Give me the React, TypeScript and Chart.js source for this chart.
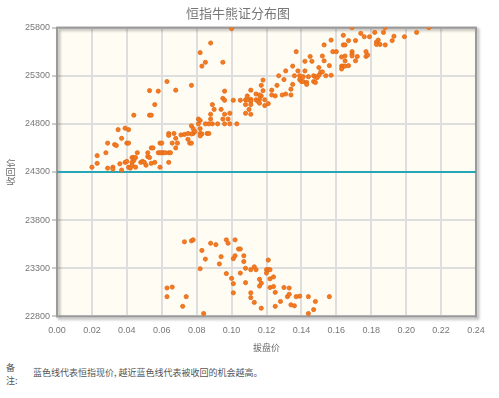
import React, { useEffect, useRef } from "react";
import { Chart, registerables } from "chart.js";

Chart.register(...registerables);

const chartTitle = "恒指牛熊证分布图";
const xAxisTitle = "拔盘价";
const yAxisTitle = "收回价";
const noteLabel = ["备", "注:"];
const noteText = "蓝色线代表恒指现价, 越近蓝色线代表被收回的机会越高。";

const xMin = 0;
const xMax = 0.24;
const xStep = 0.02;
const yMin = 22800;
const yMax = 25800;
const yStep = 500;
const spotLevel = 24300;

// [拔盘价, 收回价] — bear warrants (call level above spot)
const bearWarrants: [number, number][] = [
  [0.063, 25240], [0.053, 25145], [0.058, 25140], [0.068, 25150], [0.056, 25000], [0.044, 24890],
  [0.053, 24890], [0.054, 24890], [0.035, 24740], [0.039, 24755], [0.041, 24740], [0.037, 24650],
  [0.029, 24600], [0.033, 24585], [0.034, 24575], [0.040, 24600], [0.041, 24600], [0.028, 24500],
  [0.023, 24470], [0.023, 24390], [0.020, 24350], [0.029, 24340], [0.032, 24350], [0.032, 24330],
  [0.036, 24385], [0.037, 24320], [0.039, 24400], [0.040, 24410], [0.041, 24350], [0.042, 24340],
  [0.043, 24450], [0.044, 24450], [0.045, 24450], [0.044, 24420], [0.043, 24400], [0.043, 24370],
  [0.045, 24350], [0.046, 24500], [0.048, 24400], [0.049, 24410], [0.050, 24400], [0.051, 24370],
  [0.052, 24500], [0.052, 24460], [0.054, 24550], [0.055, 24550], [0.053, 24450], [0.054, 24390],
  [0.056, 24400], [0.059, 24350], [0.059, 24600], [0.060, 24600], [0.058, 24500], [0.059, 24500],
  [0.060, 24500], [0.061, 24500], [0.062, 24500], [0.064, 24500], [0.065, 24500], [0.064, 24700],
  [0.064, 24680], [0.066, 24600], [0.068, 24650], [0.069, 24600], [0.067, 24700], [0.071, 24685],
  [0.073, 24690], [0.064, 24400], [0.068, 24550], [0.075, 24640], [0.076, 24600],
  [0.100, 25790], [0.088, 25640], [0.082, 25540], [0.085, 25440], [0.083, 25400], [0.095, 25440],
  [0.077, 25200], [0.137, 25550], [0.145, 25500], [0.142, 25450], [0.146, 25450], [0.135, 25400],
  [0.131, 25350], [0.138, 25350], [0.142, 25350], [0.127, 25300], [0.130, 25260], [0.136, 25300],
  [0.139, 25300], [0.141, 25290], [0.144, 25290], [0.147, 25300], [0.139, 25260], [0.140, 25240],
  [0.141, 25240], [0.143, 25230], [0.143, 25210], [0.147, 25240], [0.135, 25210], [0.134, 25160],
  [0.131, 25110], [0.134, 25100], [0.129, 25100], [0.123, 25150], [0.126, 25200], [0.123, 25100],
  [0.125, 25090], [0.118, 25255], [0.117, 25200], [0.118, 25145], [0.111, 25150], [0.114, 25110],
  [0.117, 25090], [0.116, 25100], [0.114, 25050], [0.116, 25055], [0.119, 25050], [0.115, 25035],
  [0.121, 25010], [0.119, 24990], [0.116, 25015], [0.111, 25055], [0.108, 25050],
  [0.109, 25050], [0.111, 25035], [0.108, 25000], [0.111, 25000], [0.110, 24950], [0.108, 24910],
  [0.111, 24900], [0.109, 25090], [0.105, 25045], [0.101, 25045], [0.096, 25140], [0.095, 25065],
  [0.096, 25045], [0.089, 25000], [0.090, 24950], [0.094, 24950], [0.099, 24910], [0.096, 24900],
  [0.088, 24900], [0.088, 24850], [0.095, 24850], [0.098, 24850], [0.099, 24800], [0.096, 24800],
  [0.103, 24800], [0.092, 24800], [0.089, 24800], [0.087, 24800], [0.085, 24800], [0.081, 24850],
  [0.082, 24835], [0.081, 24800], [0.077, 24780], [0.078, 24750], [0.082, 24750], [0.078, 24700],
  [0.077, 24695], [0.075, 24700], [0.082, 24700], [0.083, 24695], [0.086, 24700], [0.087, 24700],
  [0.077, 24600], [0.082, 24675], [0.079, 24720],
  [0.169, 25800], [0.188, 25800], [0.213, 25800], [0.174, 25740], [0.176, 25705], [0.179, 25705],
  [0.182, 25750], [0.187, 25750], [0.193, 25710], [0.199, 25705], [0.206, 25750], [0.164, 25720],
  [0.157, 25670], [0.153, 25620], [0.164, 25620], [0.165, 25620], [0.167, 25665], [0.171, 25665],
  [0.184, 25670], [0.183, 25650], [0.183, 25625], [0.185, 25625], [0.188, 25620], [0.192, 25665],
  [0.158, 25550], [0.160, 25550], [0.169, 25550], [0.169, 25525], [0.177, 25550], [0.177, 25500],
  [0.178, 25515], [0.152, 25505], [0.163, 25495], [0.165, 25505], [0.169, 25505], [0.172, 25500],
  [0.153, 25455], [0.165, 25455], [0.171, 25455], [0.156, 25405], [0.163, 25400], [0.164, 25400],
  [0.165, 25400], [0.167, 25405], [0.163, 25370], [0.150, 25385], [0.151, 25335], [0.152, 25340],
  [0.150, 25305], [0.154, 25300], [0.157, 25305], [0.148, 25230], [0.148, 25290], [0.149, 25280],
];

// [拔盘价, 收回价] — bull warrants (call level below spot)
const bullWarrants: [number, number][] = [
  [0.063, 23095], [0.066, 23105], [0.063, 23005], [0.072, 22905], [0.074, 23005], [0.084, 22830],
  [0.073, 23575], [0.077, 23585], [0.078, 23595], [0.083, 23485], [0.085, 23395], [0.082, 23295],
  [0.088, 23560], [0.091, 23545], [0.097, 23595], [0.098, 23560], [0.102, 23595], [0.094, 23420],
  [0.093, 23345], [0.097, 23245], [0.100, 23195], [0.101, 23140], [0.101, 23045], [0.104, 23500],
  [0.105, 23500], [0.107, 23430], [0.107, 23370], [0.101, 23400], [0.102, 23430], [0.108, 23300],
  [0.105, 23250], [0.111, 23285], [0.113, 23315], [0.114, 23285], [0.108, 23150], [0.111, 23045],
  [0.111, 22995], [0.113, 22945], [0.117, 22885], [0.116, 23185], [0.117, 23145], [0.116, 23115],
  [0.121, 23385], [0.120, 23285], [0.121, 23285], [0.122, 23285], [0.120, 23250], [0.122, 23190],
  [0.124, 23210], [0.122, 23100], [0.124, 23110], [0.125, 23050], [0.128, 22955], [0.125, 22905],
  [0.130, 23100], [0.132, 23005], [0.133, 23095], [0.133, 23030], [0.134, 22920], [0.136, 22910],
  [0.137, 23005], [0.139, 23010], [0.144, 23005], [0.148, 22955], [0.144, 22830], [0.147, 22870],
  [0.156, 23005],
];

const FONT = "'Liberation Sans', 'Noto Sans CJK SC', sans-serif";

const framePlugin = {
  id: "frame",
  beforeDraw(chart: any) {
    const { ctx, chartArea: a } = chart;
    ctx.save();
    ctx.fillStyle = "#fffcf4";
    ctx.fillRect(a.left, a.top, a.right - a.left, a.bottom - a.top);
    ctx.restore();
  },
  beforeDatasetsDraw(chart: any) {
    const { ctx, chartArea: a } = chart;
    ctx.save();
    ctx.shadowColor = "rgba(0,0,0,0.35)";
    ctx.shadowOffsetX = 2;
    ctx.shadowOffsetY = 2;
    ctx.shadowBlur = 3;
    ctx.strokeStyle = "#9a9a9a";
    ctx.lineWidth = 2;
    ctx.strokeRect(a.left, a.top, a.right - a.left, a.bottom - a.top);
    ctx.restore();
  },
};

export default function App() {
  const ref = useRef<HTMLCanvasElement | null>(null);

  useEffect(() => {
    if (!ref.current) return;
    const toPts = (arr: [number, number][]) => arr.map(([x, y]) => ({ x, y }));
    const chart = new Chart(ref.current, {
      type: "scatter",
      data: {
        datasets: [
          {
            label: "spot",
            data: [
              { x: xMin, y: spotLevel },
              { x: xMax, y: spotLevel },
            ],
            showLine: true,
            borderColor: "#27a6b6",
            borderWidth: 2,
            pointRadius: 0,
            order: 2,
          },
          {
            label: "熊证",
            data: toPts(bearWarrants),
            backgroundColor: "#f47b20",
            borderColor: "#e26a16",
            borderWidth: 0.8,
            pointRadius: 2.1,
            order: 1,
          },
          {
            label: "牛证",
            data: toPts(bullWarrants),
            backgroundColor: "#f47b20",
            borderColor: "#e26a16",
            borderWidth: 0.8,
            pointRadius: 2.1,
            order: 1,
          },
        ],
      },
      options: {
        responsive: false,
        animation: false,
        layout: { padding: { left: 0, right: 23, top: 0, bottom: 6 } },
        plugins: {
          legend: { display: false },
          tooltip: { enabled: false },
          title: {
            display: true,
            text: chartTitle,
            color: "#777",
            font: { family: FONT, size: 13, weight: "normal" },
            padding: { top: 7, bottom: 5 },
          },
        },
        scales: {
          x: {
            type: "linear",
            min: xMin,
            max: xMax,
            ticks: {
              stepSize: xStep,
              color: "#777",
              font: { family: FONT, size: 9 },
              padding: 6,
              callback: (v: any) => Number(v).toFixed(2),
            },
            grid: { color: "#dedede", lineWidth: 2, drawTicks: true, tickLength: 3, tickColor: "rgba(0,0,0,0)" },
            border: { display: false },
            title: {
              display: true,
              text: xAxisTitle,
              color: "#666",
              font: { family: FONT, size: 9 },
              padding: { top: 1, bottom: 0 },
            },
          },
          y: {
            type: "linear",
            min: yMin,
            max: yMax,
            ticks: {
              stepSize: yStep,
              color: "#777",
              font: { family: FONT, size: 9 },
              padding: 2,
              callback: (v: any) => String(v),
            },
            grid: { color: "#dedede", lineWidth: 2, drawTicks: true, tickLength: 5, tickColor: "#999", tickWidth: 1 },
            border: { display: false },
            title: {
              display: true,
              text: yAxisTitle,
              color: "#666",
              font: { family: FONT, size: 9 },
              padding: { top: 6, bottom: 0 },
            },
            afterFit: (scale: any) => {
              scale.width = 57;
            },
          },
        },
      },
      plugins: [framePlugin],
    } as any);
    return () => chart.destroy();
  }, []);

  return (
    <div style={{ position: "fixed", left: 0, top: 0, width: 499, height: 398, background: "#fff" }}>
      <canvas ref={ref} width={499} height={360} style={{ display: "block", width: 499, height: 360 }} />
      <div
        style={{
          position: "absolute",
          left: 6,
          top: 361,
          fontFamily: "'Noto Sans CJK SC', sans-serif",
          fontSize: 9,
          lineHeight: "13px",
          color: "#555",
        }}
      >
        <div>{noteLabel[0]}</div>
        <div>{noteLabel[1]}</div>
      </div>
      <div
        style={{
          position: "absolute",
          left: 33,
          top: 367,
          fontFamily: "'Noto Sans CJK SC', sans-serif",
          fontSize: 9,
          lineHeight: "12px",
          color: "#555",
        }}
      >
        {noteText}
      </div>
    </div>
  );
}
